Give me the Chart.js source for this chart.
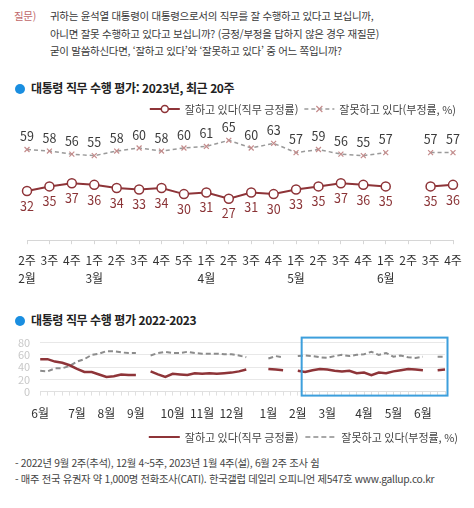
<!DOCTYPE html>
<html lang="ko">
<head>
<meta charset="utf-8">
<title>대통령 직무 수행 평가</title>
<script src="https://cdn.jsdelivr.net/npm/chart.js@4.4.0/dist/chart.umd.min.js"></script>
<style>
body{margin:0;width:474px;height:508px;background:#fff;font-family:"Noto Sans CJK KR","Noto Sans",sans-serif;color:#333;overflow:hidden;position:relative;}
.pregunta{position:absolute;left:14px;top:7px;font-size:10.5px;line-height:17.5px;letter-spacing:-0.3px;color:#3a3a3a;}
.pregunta .etq{position:absolute;left:0;top:0;color:#c0676a;}
.pregunta .txt{margin-left:36px;white-space:nowrap;}
.titulo{position:absolute;left:15px;font-size:12px;font-weight:bold;letter-spacing:-0.4px;color:#222;white-space:nowrap;}
.titulo:before{content:"";display:inline-block;width:10px;height:10px;border-radius:50%;background:#1a8ee0;margin-right:6px;vertical-align:-1px;}
.notas{position:absolute;left:15px;top:455px;font-size:10.3px;line-height:16px;letter-spacing:-0.3px;color:#444;white-space:nowrap;}
.marco{position:absolute;left:0;width:474px;}
</style>
</head>
<body onload="Inicio()">

<div class="pregunta">
	<span class="etq">질문)</span>
	<div class="txt">귀하는 윤석열 대통령이 대통령으로서의 직무를 잘 수행하고 있다고 보십니까,<br/>아니면 잘못 수행하고 있다고 보십니까? (긍정/부정을 답하지 않은 경우 재질문)<br/>굳이 말씀하신다면, ‘잘하고 있다’와 ‘잘못하고 있다’ 중 어느 쪽입니까?</div>
</div>

<div class="titulo" style="top:79px;">대통령 직무 수행 평가: 2023년, 최근 20주</div>
<div class="titulo" style="top:311px;">대통령 직무 수행 평가 2022-2023</div>

<div class="marco" style="top:98px;height:200px;"><canvas id="graficoCorto"></canvas></div>
<div class="marco" style="top:326px;height:125px;"><canvas id="graficoLargo"></canvas></div>

<div class="notas">- 2022년 9월 2주(추석), 12월 4~5주, 2023년 1월 4주(설), 6월 2주 조사 쉼<br/>- 매주 전국 유권자 약 1,000명 전화조사(CATI). 한국갤럽 데일리 오피니언 제547호 www.gallup.co.kr</div>

<script>
//	Datos: ultimas 20 semanas (2023)
var semanasCorto=['2주','3주','4주','1주','2주','3주','4주','5주','1주','2주','3주','4주','1주','2주','3주','4주','1주','2주','3주','4주'];
var mesesCorto=['2월','','','3월','','','','','4월','','','','5월','','','','6월','','',''];
var positivoCorto=[32,35,37,36,34,33,34,30,31,27,31,30,33,35,37,36,35,null,35,36];
var negativoCorto=[59,58,56,55,58,60,58,60,61,65,60,63,57,59,56,55,57,null,57,57];

//	Datos: serie 2022-2023, semanal desde 6월 1주 (2022)
var mesesLargo=['6월','7월','8월','9월','10월','11월','12월','1월','2월','3월','4월','5월','6월'];
var semanasPorMes=[5,4,4,5,4,4,5,4,4,5,4,4,4];
var positivoLargo=[53,53,49,47,43, 37,32,32,28, 24,25,28,27, 27,null,33,28,24, 29,28,27,30, 29,30,29,30, 31,33,36,null,null, 37,36,35,null,
	34,32,35,37, 36,34,33,34,30, 31,27,31,30, 33,35,37,36, 35,null,35,36];
var negativoLargo=[34,33,38,38,42, 49,53,60,62, 66,66,64,63, 63,null,59,63,65, 63,63,65,63, 62,62,62,61, 61,59,56,null,null, 54,58,56,null,
	58,59,58,56, 55,58,60,58,60, 61,65,60,63, 57,59,56,55, 57,null,57,57];

var txtPositivo='잘하고 있다(직무 긍정률)';
var txtNegativo='잘못하고 있다(부정률, %)';

var colorPositivo='#8e3438';
var colorNegativo='#9a9a9a';

var graficoCorto, graficoLargo;

//	funcion a ejecutar al cargarse la pagina
function Inicio()
{
	PresentaGraficoCorto();
	PresentaGraficoLargo();
}


//	Leyenda dibujada a mano: linea + marcador + texto, alineada a la derecha
var pluginLeyenda={
	id:'leyendaLinea',
	afterDraw:function(chart,args,opts)
	{
		var ctx=chart.ctx;
		var datasets=chart.data.datasets;
		ctx.save();
		ctx.font='11px "Noto Sans CJK KR"';
		ctx.textBaseline='middle';
		var ancho=0, i;
		for (i=0;i<datasets.length;++i)
			ancho+=opts.largo+opts.hueco+ctx.measureText(datasets[i].label).width+(i>0?opts.separacion:0);
		var x=opts.derecha-ancho, y=opts.y;
		for (i=0;i<datasets.length;++i)
		{
			var ds=datasets[i];
			if (i>0) x+=opts.separacion;
			ctx.strokeStyle=ds.borderColor;
			ctx.lineWidth=opts.grosor[i];
			ctx.setLineDash(ds.borderDash||[]);
			ctx.beginPath();
			ctx.moveTo(x,y);
			ctx.lineTo(x+opts.largo,y);
			ctx.stroke();
			ctx.setLineDash([]);
			if (opts.marcadores)
			{
				var cx=x+opts.largo/2;
				if (ds.pointStyle=='crossRot')
				{
					ctx.strokeStyle=ds.pointBorderColor;
					ctx.lineWidth=1.2;
					ctx.beginPath();
					ctx.moveTo(cx-3,y-3);ctx.lineTo(cx+3,y+3);
					ctx.moveTo(cx+3,y-3);ctx.lineTo(cx-3,y+3);
					ctx.stroke();
				}
				else
				{
					ctx.fillStyle='#fff';
					ctx.strokeStyle=ds.pointBorderColor;
					ctx.lineWidth=1.5;
					ctx.beginPath();
					ctx.arc(cx,y,3.5,0,Math.PI*2);
					ctx.fill();
					ctx.stroke();
				}
			}
			x+=opts.largo+opts.hueco;
			ctx.fillStyle='#444';
			ctx.fillText(ds.label,x,y+0.5);
			x+=ctx.measureText(ds.label).width;
		}
		ctx.restore();
	}
};


//	Etiquetas con el valor encima o debajo de cada punto
var pluginEtiquetas={
	id:'etiquetasValor',
	afterDatasetsDraw:function(chart)
	{
		var ctx=chart.ctx;
		ctx.save();
		ctx.font='12.5px "Noto Sans CJK KR"';
		ctx.textAlign='center';
		ctx.textBaseline='middle';
		chart.data.datasets.forEach(function(ds,i){
			var meta=chart.getDatasetMeta(i);
			meta.data.forEach(function(pt,j){
				if (ds.data[j]==null) return;
				ctx.fillStyle=ds.colorEtiqueta;
				ctx.fillText(ds.data[j],pt.x,pt.y+ds.desplEtiqueta);
			});
		});
		ctx.restore();
	}
};


//	Recuadro azul sobre las ultimas 20 semanas
var pluginRecuadro={
	id:'recuadro',
	afterDatasetsDraw:function(chart,args,opts)
	{
		var ctx=chart.ctx, xs=chart.scales.x, area=chart.chartArea;
		var x1=xs.getPixelForValue(opts.desde)-3.5;
		var x2=xs.getPixelForValue(opts.hasta)+2.5;
		ctx.save();
		ctx.strokeStyle='#3d9fdc';
		ctx.lineWidth=2;
		ctx.strokeRect(x1,area.top-5,x2-x1,area.bottom-area.top+9);
		ctx.restore();
	}
};


//	Grafico de las ultimas 20 semanas
function PresentaGraficoCorto()
{
	var Labels=[];
	for (var i=0;i<semanasCorto.length;++i)
		Labels[i]=mesesCorto[i]?[semanasCorto[i],mesesCorto[i]]:semanasCorto[i];

	var ctx=document.getElementById('graficoCorto').getContext('2d');
	graficoCorto=new Chart(ctx,{
		type:'line',
		data:{
			labels:Labels,
			datasets:[
				{
					label:txtPositivo,
					data:positivoCorto,
					borderColor:colorPositivo,
					borderWidth:2,
					pointRadius:4.5,
					pointBackgroundColor:'#fff',
					pointBorderColor:colorPositivo,
					pointBorderWidth:1.5,
					colorEtiqueta:'#8a3336',
					desplEtiqueta:15,
					spanGaps:false
				},
				{
					label:txtNegativo,
					data:negativoCorto,
					borderColor:colorNegativo,
					borderWidth:1.5,
					borderDash:[4,3],
					pointStyle:'crossRot',
					pointRadius:3.5,
					pointBorderColor:'#c48c8c',
					pointBorderWidth:1.2,
					colorEtiqueta:'#3a3a3a',
					desplEtiqueta:-13,
					spanGaps:false
				}
			]
		},
		options:{
			responsive:true,
			maintainAspectRatio:false,
			animation:false,
			layout:{padding:{top:30,left:27,right:21,bottom:3}},
			plugins:{
				legend:{display:false},
				tooltip:{enabled:false},
				leyendaLinea:{y:11,derecha:456,largo:30,hueco:5,separacion:6,grosor:[2,1.5],marcadores:true}
			},
			scales:{
				x:{
					offset:false,
					border:{color:'#d6d6d6'},
					grid:{drawOnChartArea:false,tickLength:4,color:'#d6d6d6'},
					ticks:{autoSkip:false,maxRotation:0,padding:8,color:'#333',font:{size:12,family:'"Noto Sans CJK KR"',lineHeight:1.45}}
				},
				y:{display:false,min:0,max:73}
			}
		},
		plugins:[pluginLeyenda,pluginEtiquetas]
	});
}


//	Grafico de la serie 2022-2023
function PresentaGraficoLargo()
{
	var Labels=[];
	for (var m=0;m<mesesLargo.length;++m)
		for (var s=1;s<=semanasPorMes[m];++s)
			Labels.push(mesesLargo[m]+' '+s+'주');

	var ctx=document.getElementById('graficoLargo').getContext('2d');
	graficoLargo=new Chart(ctx,{
		type:'line',
		data:{
			labels:Labels,
			datasets:[
				{
					label:txtPositivo,
					data:positivoLargo,
					borderColor:colorPositivo,
					borderWidth:2.5,
					pointRadius:0,
					spanGaps:false
				},
				{
					label:txtNegativo,
					data:negativoLargo,
					borderColor:'#8c8c8c',
					borderWidth:2,
					borderDash:[5,3],
					pointRadius:0,
					spanGaps:false
				}
			]
		},
		options:{
			responsive:true,
			maintainAspectRatio:false,
			animation:false,
			layout:{padding:{top:12,left:8,right:29,bottom:19}},
			plugins:{
				legend:{display:false},
				tooltip:{enabled:false},
				leyendaLinea:{y:111,derecha:458,largo:31,hueco:5,separacion:7,grosor:[2,1.5],marcadores:false},
				recuadro:{desde:36,hasta:55}
			},
			scales:{
				x:{
					offset:false,
					border:{color:'#e0e0e0'},
					grid:{drawOnChartArea:false,tickLength:4,color:'#e0e0e0'},
					ticks:{
						autoSkip:false,maxRotation:0,padding:11,color:'#333',
						font:{size:12,family:'"Noto Sans CJK KR"'},
						callback:function(v){
							var l=this.getLabelForValue(v);
							return l.indexOf(' 1주')>0 ? l.split(' ')[0] : '';
						}
					}
				},
				y:{
					min:0,max:80,
					border:{display:false},
					grid:{color:'#e8e8e8',drawTicks:false},
					ticks:{stepSize:20,autoSkip:false,padding:10,color:'#c8c8c8',font:{size:11,family:'"Noto Sans CJK KR"'}}
				}
			}
		},
		plugins:[pluginLeyenda,pluginRecuadro]
	});
}
</script>
</body>
</html>
